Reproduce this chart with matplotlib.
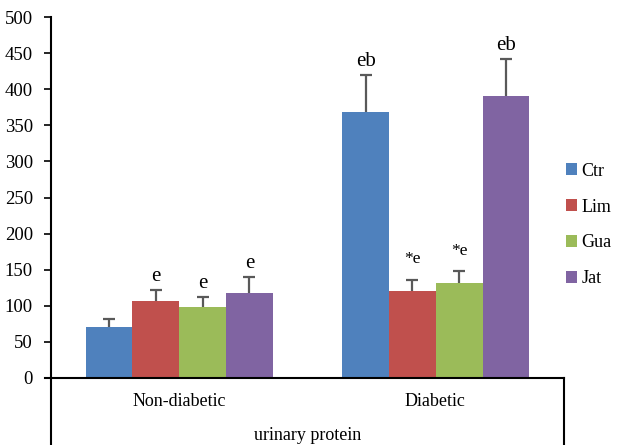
import numpy as np
import matplotlib
matplotlib.use("Agg")
import matplotlib.pyplot as plt
from matplotlib.lines import Line2D

plt.rcParams['font.family'] = ['Liberation Serif', 'DejaVu Serif']

# data
categories = ["Non-diabetic", "Diabetic"]
groups = ["Ctr", "Lim", "Gua", "Jat"]
means_nd = [70, 107, 99, 118]
err_nd = [12, 15, 13, 22]
means_d = [369, 120, 132, 390]
err_d = [50, 16, 16, 52]
marks_nd = ["", "e", "e", "e"]
marks_d = ["eb", "*e", "*e", "eb"]
yticks = [0, 50, 100, 150, 200, 250, 300, 350, 400, 450, 500]
xlabel = "urinary protein"

colors = ["#4F81BD", "#C0504D", "#9BBB59", "#8064A2"]

W, H = 618, 445
fig = plt.figure(figsize=(W / 100, H / 100), dpi=100)
ax = fig.add_axes([51 / W, 1 - 378 / H, (564 - 51) / W, (378 - 17) / H])

means = np.array([means_nd, means_d])
errs = np.array([err_nd, err_d])
marks = [marks_nd, marks_d]
x = np.arange(len(categories))
bw = 0.1825

for i, g in enumerate(groups):
    xs = x + (i - 1.5) * bw
    ax.bar(xs, means[:, i], bw, color=colors[i], label=g, zorder=2)
    eb = ax.errorbar(xs, means[:, i], yerr=[np.zeros(2), errs[:, i]], fmt="none",
                     ecolor="#595959", elinewidth=1.6, capsize=4.5, capthick=1.6, zorder=3)
    eb[1][0].set_visible(False)  # no cap at the bar top
    for j in range(len(categories)):
        m = marks[j][i]
        if not m:
            continue
        small = m.startswith("*")
        ax.annotate(m, (xs[j], means[j, i] + errs[j, i]), xytext=(0, 9 if small else 3),
                    textcoords="offset points", ha="center", va="bottom",
                    fontsize=12.5 if small else 15)

ax.set_xlim(-0.5, 1.5)
ax.set_ylim(0, 500)
ax.set_yticks(yticks)
ax.tick_params(axis="y", labelsize=13.5, length=5, width=1.2, direction="out", pad=8)
ax.set_xticks([])
for s in ["top", "right", "bottom"]:
    ax.spines[s].set_visible(False)
ax.spines["left"].set_linewidth(1.5)

# category box below the plot
lw = 1.5
ax.add_line(Line2D([-0.012, 1.0], [0, 0], transform=ax.transAxes, color="black",
                   lw=lw, clip_on=False, zorder=4))
ax.add_line(Line2D([0, 0], [0, -0.2], transform=ax.transAxes, color="black",
                   lw=lw, clip_on=False))
ax.add_line(Line2D([1, 1], [0, -0.2], transform=ax.transAxes, color="black",
                   lw=lw, clip_on=False))
for j, c in enumerate(categories):
    fig.text((51 + 256 * j + 128) / W, 1 - 401 / H, c, ha="center", va="center", fontsize=13)
fig.text((51 + 564) / 2 / W, 1 - 435 / H, xlabel, ha="center", va="center", fontsize=13)

ax.legend(loc="center left", bbox_to_anchor=(566 / W, 1 - 225 / H),
          bbox_transform=fig.transFigure, frameon=False, fontsize=13,
          handlelength=0.6, handleheight=0.6, handletextpad=0.25,
          labelspacing=1.05, borderaxespad=0, borderpad=0)

fig.savefig("out.png", dpi=100)
